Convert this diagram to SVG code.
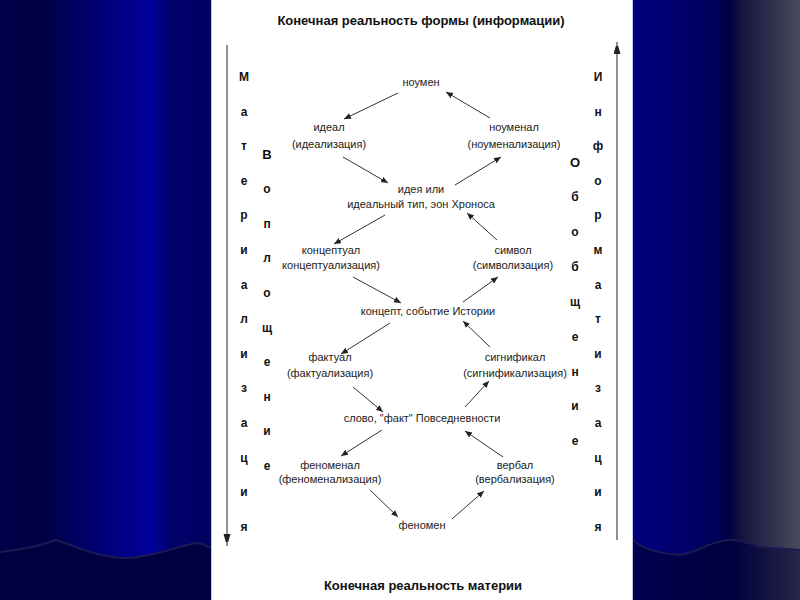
<svg xmlns="http://www.w3.org/2000/svg" width="800" height="600" viewBox="0 0 800 600">
<defs>
<linearGradient id="bgL" x1="0" y1="0" x2="1" y2="0">
<stop offset="0" stop-color="#00004a"/>
<stop offset="0.2" stop-color="#000044"/>
<stop offset="0.3" stop-color="#000058"/>
<stop offset="0.55" stop-color="#000082"/>
<stop offset="0.72" stop-color="#00009c"/>
<stop offset="0.8" stop-color="#00006c"/>
<stop offset="1" stop-color="#00005e"/>
</linearGradient>
<linearGradient id="bgR" x1="0" y1="0" x2="1" y2="0">
<stop offset="0" stop-color="#000082"/>
<stop offset="0.5" stop-color="#00005a"/>
<stop offset="0.58" stop-color="#000040"/>
<stop offset="0.66" stop-color="#161640"/>
<stop offset="1" stop-color="#4a4a5c"/>
</linearGradient>
<linearGradient id="bgRb" x1="0" y1="0" x2="1" y2="0">
<stop offset="0" stop-color="#000050"/>
<stop offset="0.6" stop-color="#00003c"/>
<stop offset="1" stop-color="#262648"/>
</linearGradient>
<marker id="ah" markerUnits="userSpaceOnUse" markerWidth="8" markerHeight="7" refX="7" refY="3" orient="auto">
<path d="M0,0 L7,3 L0,6 z" fill="#222"/>
</marker>
<marker id="bh" markerUnits="userSpaceOnUse" markerWidth="8" markerHeight="14" refX="12" refY="3.5" orient="auto">
<path d="M0,0 L12,3.5 L0,7 z" fill="#222"/>
</marker>
</defs>
<style>
.n{font-family:"Liberation Sans",Arial,sans-serif;font-size:11px;fill:#222;text-anchor:middle}
.t{font-family:"Liberation Sans",Arial,sans-serif;font-size:13px;font-weight:bold;fill:#111;text-anchor:middle}
.v{font-family:"Liberation Sans",Arial,sans-serif;font-size:12px;font-weight:bold;fill:#111;text-anchor:middle}
.c{stroke:#333;stroke-width:1;fill:none;marker-end:url(#ah)}
.ax{stroke:#555;stroke-width:1.3;fill:none;marker-end:url(#bh)}
</style>
<!-- background -->
<rect x="0" y="0" width="212" height="600" fill="url(#bgL)"/>
<path d="M0,552 C20,550 40,546 56,540 C80,548 100,558 128,558 C160,556 180,544 199,543 L212,548 L212,600 L0,600 z" fill="#000040"/>
<path d="M0,552 C20,550 40,546 56,540 C80,548 100,558 128,558 C160,556 180,544 199,543 L212,548" fill="none" stroke="#1a1a50" stroke-width="2"/>
<rect x="633" y="0" width="167" height="600" fill="url(#bgR)"/>
<path d="M633,540 C640,546 648,552 679,555 C700,552 712,540 730,540 C745,540 752,545 760,547 L800,550 L800,600 L633,600 z" fill="url(#bgRb)"/>
<path d="M633,540 C640,546 648,552 679,555 C700,552 712,540 730,540 C745,540 752,545 760,547 L800,550" fill="none" stroke="#1a1a50" stroke-width="2"/>
<rect x="211" y="0" width="422" height="600" fill="#ffffff"/>
<line x1="211.5" y1="0" x2="211.5" y2="600" stroke="#c8c8dc" stroke-width="1"/>
<line x1="632.5" y1="0" x2="632.5" y2="600" stroke="#c8c8dc" stroke-width="1"/>

<g id="titles">
<text class="t" x="421" y="25">Конечная реальность формы (информации)</text>
<text class="t" x="423" y="590">Конечная реальность материи</text>
</g>

<g id="axes">
<line class="ax" x1="227" y1="45" x2="227" y2="546"/>
<line class="ax" x1="617" y1="540" x2="617" y2="42"/>
</g>

<g id="col-materializatsiya" class="v">
<text class="v" x="244" y="81">М</text>
<text class="v" x="244" y="116">а</text>
<text class="v" x="244" y="150">т</text>
<text class="v" x="244" y="185">е</text>
<text class="v" x="244" y="219">р</text>
<text class="v" x="244" y="254">и</text>
<text class="v" x="244" y="289">а</text>
<text class="v" x="244" y="323">л</text>
<text class="v" x="244" y="358">и</text>
<text class="v" x="244" y="392">з</text>
<text class="v" x="244" y="427">а</text>
<text class="v" x="244" y="462">ц</text>
<text class="v" x="244" y="496">и</text>
<text class="v" x="244" y="531">я</text>
</g>

<g id="col-voploshchenie">
<text class="v" x="267" y="159" style="font-size:13px">В</text>
<text class="v" x="267" y="193">о</text>
<text class="v" x="267" y="228">п</text>
<text class="v" x="267" y="262">л</text>
<text class="v" x="267" y="297">о</text>
<text class="v" x="267" y="332">щ</text>
<text class="v" x="267" y="366">е</text>
<text class="v" x="267" y="401">н</text>
<text class="v" x="267" y="435">и</text>
<text class="v" x="267" y="470">е</text>
</g>

<g id="col-obobshchenie">
<text class="v" x="575" y="167" style="font-size:13px">О</text>
<text class="v" x="575" y="201">б</text>
<text class="v" x="575" y="236">о</text>
<text class="v" x="575" y="271">б</text>
<text class="v" x="575" y="306">щ</text>
<text class="v" x="575" y="341">е</text>
<text class="v" x="575" y="376">н</text>
<text class="v" x="575" y="410">и</text>
<text class="v" x="575" y="445">е</text>
</g>

<g id="col-informatizatsiya">
<text class="v" x="598" y="81">И</text>
<text class="v" x="598" y="116">н</text>
<text class="v" x="598" y="150">ф</text>
<text class="v" x="598" y="185">о</text>
<text class="v" x="598" y="219">р</text>
<text class="v" x="598" y="254">м</text>
<text class="v" x="598" y="289">а</text>
<text class="v" x="598" y="323">т</text>
<text class="v" x="598" y="358">и</text>
<text class="v" x="598" y="392">з</text>
<text class="v" x="598" y="427">а</text>
<text class="v" x="598" y="462">ц</text>
<text class="v" x="598" y="496">и</text>
<text class="v" x="598" y="531">я</text>
</g>

<g id="noumen"><text class="n" x="421" y="86">ноумен</text></g>
<g id="ideal"><text class="n" x="329" y="131">идеал</text><text class="n" x="329" y="148">(идеализация)</text></g>
<g id="noumenal"><text class="n" x="514" y="131">ноуменал</text><text class="n" x="514" y="148">(ноуменализация)</text></g>
<g id="ideya"><text class="n" x="421" y="193">идея  или</text><text class="n" x="421" y="208">идеальный тип, эон Хроноса</text></g>
<g id="kontseptual"><text class="n" x="331" y="254">концептуал</text><text class="n" x="331" y="269">концептуализация)</text></g>
<g id="simvol"><text class="n" x="513" y="254">символ</text><text class="n" x="513" y="269">(символизация)</text></g>
<g id="kontsept"><text class="n" x="428" y="315">концепт, событие Истории</text></g>
<g id="faktual"><text class="n" x="330" y="361">фактуал</text><text class="n" x="330" y="377">(фактуализация)</text></g>
<g id="signifikal"><text class="n" x="515" y="361">сигнификал</text><text class="n" x="515" y="377">(сигнификализация)</text></g>
<g id="slovo"><text class="n" x="422" y="422">слово, "факт" Повседневности</text></g>
<g id="fenomenal"><text class="n" x="330" y="469">феноменал</text><text class="n" x="330" y="483">(феноменализация)</text></g>
<g id="verbal"><text class="n" x="515" y="469">вербал</text><text class="n" x="515" y="483">(вербализация)</text></g>
<g id="fenomen"><text class="n" x="422" y="529">феномен</text></g>

<g id="connectors">
<line class="c" x1="398" y1="93" x2="344" y2="119"/>
<line class="c" x1="490" y1="118" x2="446" y2="92"/>
<line class="c" x1="343" y1="157" x2="388" y2="183"/>
<line class="c" x1="455" y1="185" x2="501" y2="157"/>
<line class="c" x1="385" y1="215" x2="334" y2="244"/>
<line class="c" x1="497" y1="240" x2="467" y2="213"/>
<line class="c" x1="353" y1="277" x2="401" y2="303"/>
<line class="c" x1="463" y1="302" x2="498" y2="277"/>
<line class="c" x1="390" y1="323" x2="341" y2="354"/>
<line class="c" x1="490" y1="347" x2="463" y2="321"/>
<line class="c" x1="353" y1="387" x2="383" y2="412"/>
<line class="c" x1="465" y1="407" x2="489" y2="381"/>
<line class="c" x1="382" y1="430" x2="341" y2="456"/>
<line class="c" x1="503" y1="457" x2="465" y2="431"/>
<line class="c" x1="370" y1="490" x2="398" y2="517"/>
<line class="c" x1="452" y1="519" x2="484" y2="491"/>
</g>
</svg>
